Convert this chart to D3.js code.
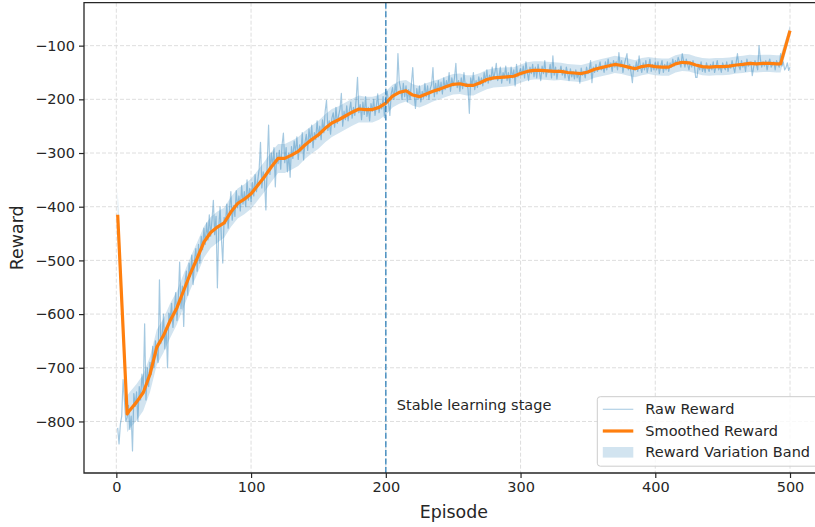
<!DOCTYPE html>
<html>
<head>
<meta charset="utf-8">
<script src="https://cdn.jsdelivr.net/npm/d3@7"></script>
<style>
  html, body { margin: 0; padding: 0; background: #fff; }
  svg { display: block; font-family: "DejaVu Sans", sans-serif; }
</style>
</head>
<body>
<svg id="chart" width="815" height="527"></svg>
<script>
// Raw reward per episode (episodes 1..500).
var rawReward = [
  -812, -842, -805, -790, -722, -760, -800, -792, -770, -815,
  -790, -855, -748, -772, -745, -800, -735, -760, -712, -740,
  -618, -760, -700, -735, -690, -712, -660, -700, -650, -672,
  -690, -536, -655, -640, -600, -665, -625, -700, -598, -610,
  -580, -625, -595, -560, -612, -570, -503, -590, -548, -623,
  -540, -520, -565, -505, -530, -490, -545, -500, -478, -520,
  -470, -505, -455, -480, -440, -470, -430, -462, -415, -455,
  -425, -388, -452, -418, -551, -440, -400, -460, -505, -420,
  -432, -395, -440, -405, -372, -425, -398, -418, -370, -402,
  -380, -408, -360, -395, -372, -400, -350, -388, -366, -390,
  -355, -380, -340, -372, -350, -330, -280, -365, -335, -352,
  -406, -318, -248, -340, -300, -325, -290, -363, -300, -320,
  -295, -330, -285, -263, -318, -290, -335, -300, -345, -288,
  -310, -278, -300, -270, -312, -285, -298, -262, -313, -280,
  -265, -295, -255, -280, -248, -290, -262, -275, -240, -270,
  -250, -275, -238, -262, -222, -202, -258, -240, -265, -235,
  -225, -252, -215, -245, -230, -218, -189, -250, -222, -238,
  -212, -240, -220, -205, -235, -215, -230, -200, -159, -225,
  -210, -238, -205, -228, -195, -232, -215, -240, -208, -222,
  -200, -230, -212, -190, -225, -208, -218, -195, -234, -200,
  -185, -205, -230, -190, -178, -200, -172, -190, -115, -168,
  -180, -200, -170, -195, -175, -205, -182, -200, -170, -141,
  -190, -217, -180, -200, -175, -205, -185, -198, -170, -195,
  -175, -200, -180, -172, -141, -195, -170, -190, -165, -185,
  -168, -190, -160, -182, -165, -178, -150, -185, -160, -175,
  -160, -133, -178, -165, -185, -160, -180, -150, -175, -170,
  -180, -226, -160, -175, -150, -182, -165, -178, -158, -172,
  -160, -175, -150, -168, -145, -170, -155, -165, -140, -162,
  -150, -133, -165, -158, -140, -170, -150, -160, -138, -165,
  -150, -170, -140, -160, -145, -175, -135, -158, -150, -142,
  -155, -138, -160, -130, -150, -165, -140, -152, -135, -158,
  -140, -160, -135, -150, -165, -138, -152, -128, -158, -145,
  -150, -135, -160, -119, -155, -140, -162, -145, -150, -138,
  -155, -145, -160, -140, -152, -165, -143, -158, -148, -162,
  -145, -160, -150, -170, -142, -155, -148, -160, -140, -152,
  -145, -128, -169, -140, -150, -135, -148, -142, -130, -145,
  -138, -150, -130, -145, -125, -140, -132, -148, -128, -140,
  -130, -145, -113, -140, -128, -150, -135, -125, -115, -145,
  -135, -150, -169, -138, -145, -130, -148, -119, -140, -150,
  -132, -145, -128, -150, -138, -125, -148, -135, -145, -130,
  -145, -130, -152, -138, -128, -150, -135, -145, -130, -148,
  -132, -140, -125, -138, -128, -135, -122, -130, -140, -115,
  -128, -140, -125, -135, -145, -130, -140, -128, -138, -159,
  -159, -135, -145, -130, -148, -138, -150, -132, -142, -148,
  -135, -145, -130, -150, -140, -128, -145, -138, -150, -132,
  -140, -145, -130, -148, -135, -142, -128, -140, -150, -132,
  -115, -138, -145, -128, -140, -132, -148, -125, -138, -135,
  -130, -156, -140, -128, -135, -145, -100, -125, -140, -130,
  -138, -128, -145, -132, -125, -140, -135, -130, -145, -128,
  -135, -140, -115, -138, -130, -145, -141, -132, -146, -140
];

// Smoothed reward, sampled at these episodes.
var smoothEpisodes = [
  1, 8, 10, 15, 20, 25, 30, 35, 40, 45, 50, 55, 60, 65, 70, 75, 80, 85, 90, 95,
  100, 105, 110, 115, 120, 125, 130, 135, 140, 145, 150, 155, 160, 165, 170, 175,
  180, 185, 190, 195, 200, 205, 210, 215, 220, 225, 230, 235, 240, 245, 250, 255,
  260, 265, 270, 275, 280, 285, 290, 295, 300, 305, 310, 315, 320, 325, 330, 335,
  340, 345, 350, 355, 360, 365, 370, 375, 380, 385, 390, 395, 400, 405, 410, 415,
  420, 425, 430, 435, 440, 445, 450, 455, 460, 465, 470, 475, 480, 485, 490, 493, 500
];
var smoothReward = [
  -415, -786, -779, -764, -746, -712, -662, -640, -612, -588, -556, -524, -496, -466, -448, -438, -430, -410, -394, -386,
  -376, -360, -344, -326, -310, -310, -304, -297, -285, -275, -266, -254, -244, -238, -231, -224,
  -218, -219, -219, -215, -207, -194, -187, -184, -192, -195, -190, -185, -181, -176, -172, -171,
  -174, -174, -169, -163, -160, -159, -158, -157, -152, -148, -146, -146, -147, -148, -148, -150,
  -151, -152, -149, -144, -141, -138, -135, -137, -140, -143, -139, -137, -139, -140, -140, -134,
  -131, -132, -136, -139, -140, -139, -139, -138, -136, -135, -133, -134, -133, -133, -134, -134, -72
];
// Half width of the variation band at the same episodes.
var bandWidth = [
  46, 34, 34, 34, 34, 33, 33, 32, 32, 31, 31, 30, 30, 29, 29, 29, 28, 28, 28, 28,
  28, 28, 28, 28, 27, 27, 27, 27, 26, 26, 26, 26, 26, 25, 25, 25,
  25, 24, 24, 23, 22, 21, 21, 20, 20, 20, 20, 19, 19, 19, 19, 19,
  19, 19, 18, 18, 18, 18, 18, 17, 17, 17, 17, 17, 17, 17, 16, 16,
  16, 16, 16, 16, 16, 16, 16, 16, 16, 16, 16, 16, 16, 16, 16, 16,
  16, 16, 16, 16, 16, 16, 16, 16, 16, 16, 16, 16, 16, 16, 16, 16, 10
];

var xTicks = [0, 100, 200, 300, 400, 500];
var yTicks = [-800, -700, -600, -500, -400, -300, -200, -100];
var stageEpisode = 200;
var stageLabel = 'Stable learning stage';
var legendLabels = ['Raw Reward', 'Smoothed Reward', 'Reward Variation Band'];

function drawChart() {
  var blue = '#1f77b4';
  var orange = '#ff7f0e';
  var ink = '#262626';

  var svg = d3.select('#chart');
  var m = { left: 84, right: 823.7, top: 2.7, bottom: 473 };

  var x = d3.scaleLinear().domain([-24, 525]).range([m.left, m.right]);
  var y = d3.scaleLinear().domain([-896, -20]).range([m.bottom, m.top]);

  // Grid lines.
  var grid = svg.append('g').attr('class', 'grid')
    .attr('stroke', '#dadada').attr('stroke-width', 0.9).attr('stroke-dasharray', '4,2');
  grid.selectAll('.gx').data(xTicks).enter().append('line')
    .attr('x1', function(d) { return x(d); }).attr('x2', function(d) { return x(d); })
    .attr('y1', m.top).attr('y2', m.bottom);
  grid.selectAll('.gy').data(yTicks).enter().append('line')
    .attr('y1', function(d) { return y(d); }).attr('y2', function(d) { return y(d); })
    .attr('x1', m.left).attr('x2', m.right);

  var smooth = smoothEpisodes.map(function(e, i) {
    return { ep: e, v: smoothReward[i], w: bandWidth[i] };
  });

  // Variation band.
  svg.append('path')
    .datum(smooth)
    .attr('fill', blue).attr('fill-opacity', 0.2)
    .attr('d', d3.area()
      .x(function(d) { return x(d.ep); })
      .y0(function(d) { return y(d.v - d.w); })
      .y1(function(d) { return y(d.v + d.w); }));

  // Raw reward line.
  svg.append('path')
    .datum(rawReward)
    .attr('fill', 'none').attr('stroke', blue).attr('stroke-opacity', 0.4).attr('stroke-width', 1.2)
    .attr('stroke-linejoin', 'round')
    .attr('d', d3.line()
      .x(function(d, i) { return x(i + 1); })
      .y(function(d) { return y(d); }));

  // Smoothed reward line.
  svg.append('path')
    .datum(smooth)
    .attr('fill', 'none').attr('stroke', orange).attr('stroke-width', 3.2)
    .attr('stroke-linejoin', 'round')
    .attr('d', d3.line()
      .x(function(d) { return x(d.ep); })
      .y(function(d) { return y(d.v); }));

  // Stage marker.
  svg.append('line')
    .attr('x1', x(stageEpisode)).attr('x2', x(stageEpisode))
    .attr('y1', m.top).attr('y2', m.bottom)
    .attr('stroke', blue).attr('stroke-opacity', 0.75).attr('stroke-width', 1.6)
    .attr('stroke-dasharray', '6,2.6');
  svg.append('text')
    .attr('x', x(stageEpisode) + 11).attr('y', 410)
    .attr('font-size', 14.5).attr('fill', ink)
    .text(stageLabel);

  // Axes.
  var xAxis = svg.append('g')
    .attr('transform', 'translate(0,' + m.bottom + ')')
    .call(d3.axisBottom(x).tickValues(xTicks).tickSize(5).tickPadding(4).tickFormat(d3.format('d')));
  var yAxis = svg.append('g')
    .attr('transform', 'translate(' + m.left + ',0)')
    .call(d3.axisLeft(y).tickValues(yTicks).tickSize(5).tickPadding(4)
      .tickFormat(function(d) { return d3.format('d')(d).replace('-', '\u2212'); }));
  [xAxis, yAxis].forEach(function(a) {
    a.select('.domain').remove();
    a.selectAll('line').attr('stroke', ink).attr('stroke-width', 1.2);
    a.selectAll('text').attr('fill', ink).attr('font-size', 14.5)
      .attr('font-family', '"DejaVu Sans", sans-serif');
  });

  // Spines (left, bottom, top).
  svg.append('path')
    .attr('d', 'M' + m.right + ',' + m.top + 'H' + m.left + 'V' + m.bottom + 'H' + m.right)
    .attr('fill', 'none').attr('stroke', ink).attr('stroke-width', 1.3);

  // Axis labels.
  svg.append('text')
    .attr('x', (m.left + m.right) / 2).attr('y', 518)
    .attr('text-anchor', 'middle').attr('font-size', 17.4).attr('fill', ink)
    .text('Episode');
  svg.append('text')
    .attr('transform', 'translate(23,' + ((m.top + m.bottom) / 2) + ') rotate(-90)')
    .attr('text-anchor', 'middle').attr('font-size', 17.4).attr('fill', ink)
    .text('Reward');

  // Legend.
  var lg = svg.append('g').attr('transform', 'translate(597.3,396.7)');
  lg.append('rect')
    .attr('width', 222).attr('height', 69.5).attr('rx', 3)
    .attr('fill', '#fff').attr('fill-opacity', 0.8)
    .attr('stroke', '#cccccc').attr('stroke-width', 1);
  var rows = [12.6, 34.3, 55.6];
  lg.append('line').attr('x1', 5.5).attr('x2', 36).attr('y1', rows[0]).attr('y2', rows[0])
    .attr('stroke', blue).attr('stroke-opacity', 0.35).attr('stroke-width', 1.2);
  lg.append('line').attr('x1', 5.5).attr('x2', 36).attr('y1', rows[1]).attr('y2', rows[1])
    .attr('stroke', orange).attr('stroke-width', 3.2);
  lg.append('rect').attr('x', 5.5).attr('y', rows[2] - 5.3).attr('width', 30.5).attr('height', 10.6)
    .attr('fill', blue).attr('fill-opacity', 0.2);
  lg.selectAll('.lt').data(legendLabels).enter().append('text')
    .attr('x', 48).attr('y', function(d, i) { return rows[i] + 5.2; })
    .attr('font-size', 14.5).attr('fill', ink)
    .text(function(d) { return d; });
}

drawChart();
</script>
</body>
</html>
